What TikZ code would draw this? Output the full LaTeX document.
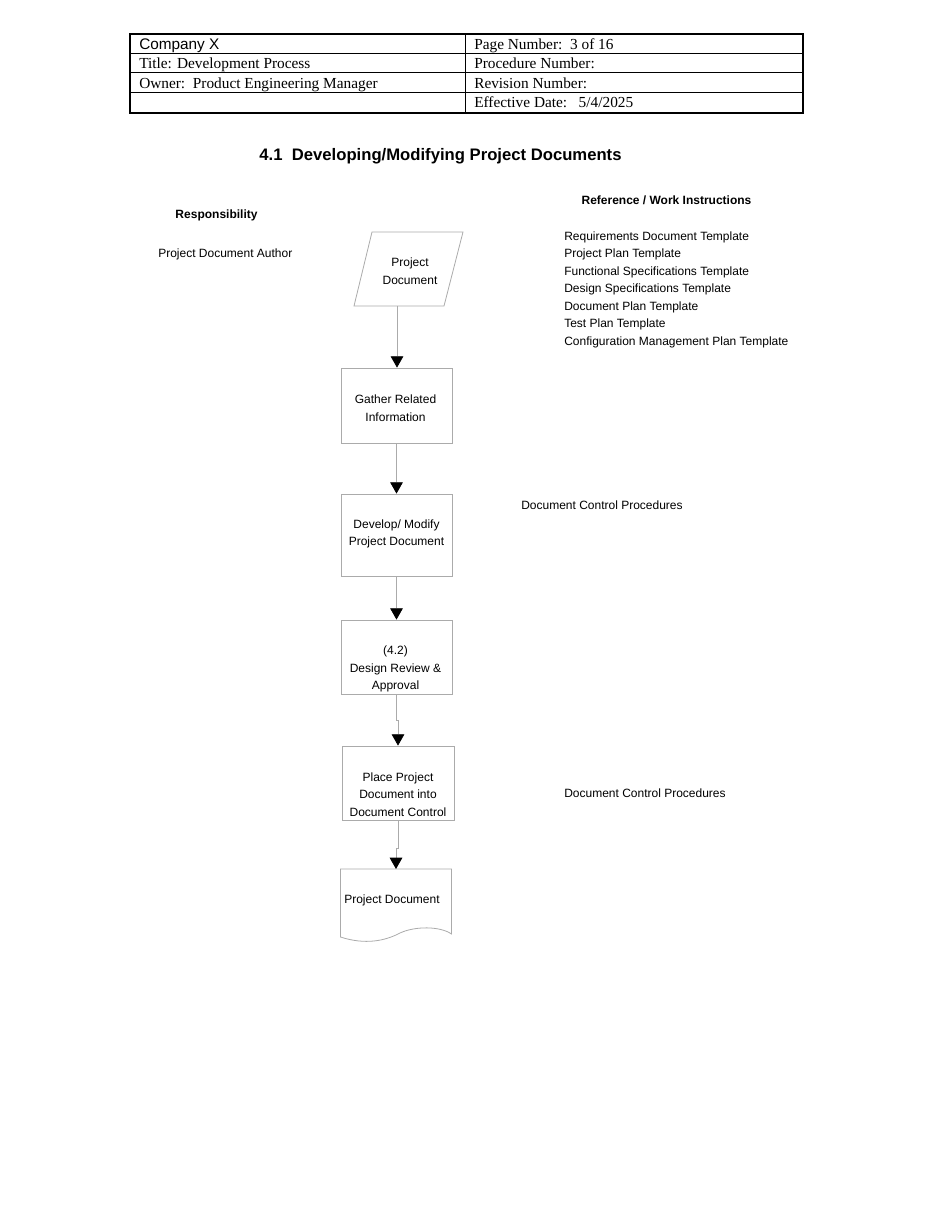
\documentclass[tikz,border=0pt]{standalone}
\usepackage{fontspec}
\setmainfont{Liberation Serif}
\setsansfont{Liberation Sans}
\usetikzlibrary{arrows.meta}
\begin{document}
\begin{tikzpicture}[x=0.75pt,y=-0.75pt,
  txt/.style={font=\sffamily\fontsize{9}{13.1}\selectfont, inner sep=0pt, align=center},
  ltxt/.style={font=\sffamily\fontsize{9}{13.1}\selectfont, inner sep=0pt, anchor=west, text height=6.5pt, text depth=1.9pt},
  btxt/.style={font=\sffamily\bfseries\fontsize{9}{11}\selectfont, inner sep=0pt, text height=6.5pt, text depth=1.9pt},
  hdr/.style={font=\fontsize{11.5}{13}\selectfont, anchor=west, inner sep=0pt, text height=8.2pt, text depth=2.4pt},
  shp/.style={draw=black!33, line width=0.6pt},
  box/.style={shp, rectangle, minimum width=83.25pt, inner sep=0pt},
  conn/.style={draw=black!33, line width=0.6pt, -{Triangle[width=9.5pt,length=8.5pt,color=black]}}
]
\useasboundingbox (0,0) rectangle (950,1230);
% header table
\draw[line width=0.75pt] (130,54) -- (803,54) (130,73) -- (803,73) (130,93) -- (803,93) (465,34) -- (465,113);
\draw[line width=1.6pt] (130,34) rectangle (803,113);
\node[hdr, font=\sffamily\fontsize{11.5}{13}\selectfont] (h1) at (139,45.5) {Company X};
\node[hdr] (h2) at (139,65) {Title: Development Process};
\node[hdr] (h3) at (139,84.5) {Owner:\ \ Product Engineering Manager};
\node[hdr] (h4) at (474,45.5) {Page Number:\ \ 3 of 16};
\node[hdr] (h5) at (474,65) {Procedure Number:};
\node[hdr] (h6) at (474,84.5) {Revision Number:};
\node[hdr] (h7) at (474,104) {Effective Date:\ \ \ 5/4/2025};
% title
\node[btxt, font=\sffamily\bfseries\fontsize{12.5}{14}\selectfont, text height=9pt, text depth=2.6pt] (title) at (440.5,156) {4.1\ \ Developing/Modifying Project Documents};
% column headings
\node[btxt] (resp) at (216.5,215) {Responsibility};
\node[btxt] (refh) at (666.5,201) {Reference / Work Instructions};
\node[ltxt] (author) at (158,254.5) {Project Document Author};
\node[ltxt] (t1) at (564,237) {Requirements Document Template};
\node[ltxt] (t2) at (564,254.5) {Project Plan Template};
\node[ltxt] (t3) at (564,272) {Functional Specifications Template};
\node[ltxt] (t4) at (564,289.5) {Design Specifications Template};
\node[ltxt] (t5) at (564,307) {Document Plan Template};
\node[ltxt] (t6) at (564,324.5) {Test Plan Template};
\node[ltxt] (t7) at (564,342) {Configuration Management Plan Template};
\node[ltxt] (dcp1) at (521,506) {Document Control Procedures};
\node[ltxt] (dcp2) at (564,794) {Document Control Procedures};
% parallelogram
\draw[shp] (372,232) -- (463,232) -- (444,306) -- (354,306) -- cycle;
\coordinate (pdbot) at (397,306);
\node[txt] (pd) at (410,271) {Project\\Document};
% boxes
\node[box, minimum height=56.25pt] (gather) at (396.5,405.5) {};
\node[txt] (gathert) at (395.5,408) {Gather Related\\Information};
\node[box, minimum height=61.5pt] (develop) at (396.5,535) {};
\node[txt] (developt) at (396.5,534) {Develop/ Modify\\Project Document};
\node[box, minimum height=55.5pt] (rev) at (396.5,657) {};
\node[txt] (revt) at (395.5,669) {(4.2)\\Design Review \&\\Approval};
\node[box, minimum width=84pt, minimum height=55.5pt] (place) at (398,783) {};
\node[txt] (placet) at (398,794.5) {Place Project\\Document into\\Document Control};
% document shape
\node[inner sep=0pt, minimum width=83.25pt, minimum height=50pt, anchor=north] (doc) at (396,869) {};
\draw[shp] (340.5,869) -- (451.5,869) -- (451.5,934)
  .. controls (440,926) and (415,926) .. (400,933)
  .. controls (385,941) and (365,945) .. (340.5,937) -- cycle;
\node[txt] (doct) at (392,900) {Project Document};
% connectors
\draw[conn] (pdbot) -- (pdbot |- gather.north);
\draw[conn] (gather.south) -- (develop.north);
\draw[conn] (develop.south) -- (rev.north);
\draw[conn] (rev.south) -- ++(0,26) -| (place.north);
\draw[conn] (place.south) -- ++(0,28) -| (doc.north);
\end{tikzpicture}
\end{document}
